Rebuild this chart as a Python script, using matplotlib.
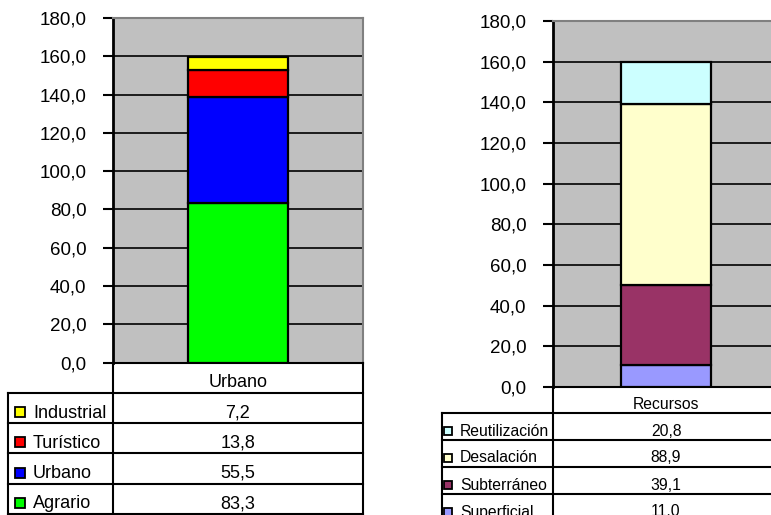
import matplotlib
matplotlib.use('Agg')
import matplotlib.pyplot as plt
from matplotlib.patches import Rectangle
from matplotlib.ticker import FuncFormatter
import numpy as np

# left chart: demanda
dem_cat = ['Urbano']
dem_labels = ['Agrario', 'Urbano', 'Turístico', 'Industrial']
dem_values = [83.3, 55.5, 13.8, 7.2]
dem_colors = ['#00FF00', '#0000FF', '#FF0000', '#FFFF00']

# right chart: recursos
rec_cat = ['Recursos']
rec_labels = ['Superficial', 'Subterráneo', 'Desalación', 'Reutilización']
rec_values = [11.0, 39.1, 88.9, 20.8]
rec_colors = ['#9999FF', '#993366', '#FFFFCC', '#CCFFFF']

y_ticks = np.arange(0, 181, 20)

W, H = 771, 515
plt.rcParams['font.family'] = ['Liberation Sans', 'DejaVu Sans']

fig = plt.figure(figsize=(W / 100, H / 100), dpi=100)

def px_axes(x0, y0, x1, y1):
    # pixel box (top-left origin) -> figure axes
    return fig.add_axes([x0 / W, 1 - y1 / H, (x1 - x0) / W, (y1 - y0) / H])

def comma(v, pos=None):
    return f'{v:.1f}'.replace('.', ',')

def stacked(ax, values, colors, tick_size):
    ax.set_facecolor('#C0C0C0')
    bottom = 0
    for v, c in zip(values, colors):
        ax.bar(0, v, width=0.4, bottom=bottom, color=c, edgecolor='black', linewidth=1.6, zorder=3)
        bottom += v
    ax.set_xlim(-0.5, 0.5)
    ax.set_ylim(0, 180)
    ax.set_yticks(y_ticks)
    ax.yaxis.set_major_formatter(FuncFormatter(comma))
    ax.set_xticks([])
    for t in y_ticks[1:-1]:
        ax.axhline(t, color='black', lw=1.2, zorder=1)
    ax.tick_params(axis='y', direction='out', length=7, width=1.5, pad=12, labelsize=tick_size)
    ax.spines['left'].set_linewidth(2)
    ax.spines['bottom'].set_linewidth(1.5)
    for s in ['top', 'right']:
        ax.spines[s].set_color('#808080')
        ax.spines[s].set_linewidth(1.5)

ax1 = px_axes(113, 18, 363, 362.5)
stacked(ax1, dem_values, dem_colors, 13.5)

ax2 = px_axes(553, 21, 779, 387)
stacked(ax2, rec_values, rec_colors, 13.5)

# overlay for the data tables, pixel coords
tb = fig.add_axes([0, 0, 1, 1], zorder=5)
tb.set_xlim(0, W)
tb.set_ylim(H, 0)
tb.axis('off')

def data_table(x_left, x_mid, x_right, y_top, y_head, row_h, n_rows, cat, labels, values, colors,
               fs, sq, x_sq, x_txt, dy_txt, dy_sq):
    lw = 1.5
    y_bot = y_head + row_h * n_rows
    tb.plot([x_mid, x_mid], [y_top, y_bot], color='black', lw=lw, clip_on=False)
    tb.plot([x_right, x_right], [y_top, y_bot], color='black', lw=lw, clip_on=False)
    tb.plot([x_left, x_left], [y_head, y_bot], color='black', lw=lw, clip_on=False)
    tb.plot([x_left, x_right], [y_head, y_head], color='black', lw=lw, clip_on=False)
    for i in range(1, n_rows + 1):
        yy = y_head + row_h * i
        tb.plot([x_left, x_right], [yy, yy], color='black', lw=lw, clip_on=False)
    xc = (x_mid + x_right) / 2
    tb.text(xc, (y_top + y_head) / 2 + dy_txt, cat[0], ha='center', va='center', fontsize=fs)
    # top row is the last series
    for i, (lab, v, c) in enumerate(zip(labels[::-1], values[::-1], colors[::-1])):
        yc = y_head + row_h * (i + 0.5)
        tb.add_patch(Rectangle((x_sq, yc + dy_sq - sq / 2), sq, sq, facecolor=c, edgecolor='black', lw=1.3))
        tb.text(x_txt, yc + dy_txt, lab, ha='left', va='center', fontsize=fs)
        tb.text(xc, yc + dy_txt, comma(v), ha='center', va='center', fontsize=fs)

data_table(8, 113, 363, 362.5, 393, 30.2, 4, dem_cat, dem_labels, dem_values, dem_colors,
           13, 10, 15, 33, 5, 4)
data_table(442, 553, 779, 387, 413, 27, 4, rec_cat, rec_labels, rec_values, rec_colors,
           11.3, 8, 444, 460, 4.5, 4)

fig.savefig('out.png', dpi=100)
